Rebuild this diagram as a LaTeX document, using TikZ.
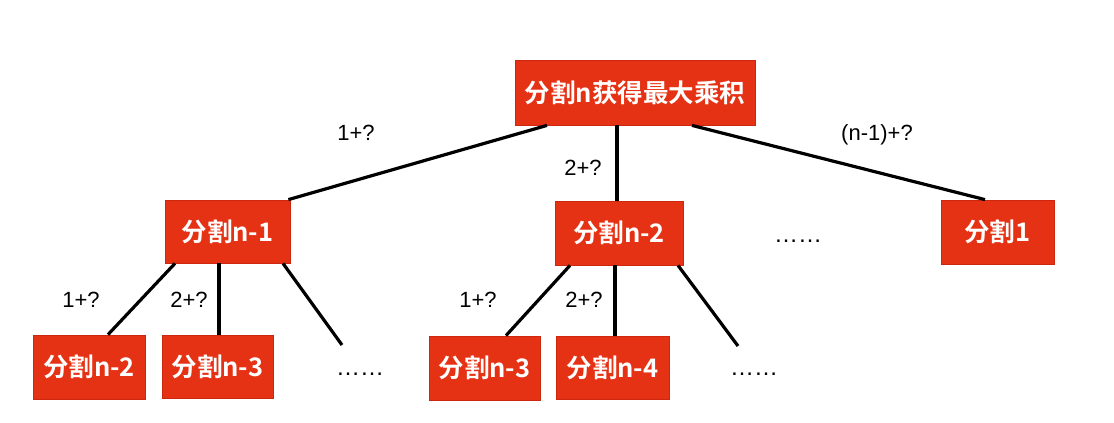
\documentclass[tikz,border=0pt]{standalone}
\usepackage{fontspec}
\setmainfont{Liberation Sans}
\newfontfamily\cjkbold[BoldFont={Noto Sans CJK SC Bold}]{Noto Sans CJK SC}
\definecolor{boxred}{RGB}{230,50,20}
\definecolor{boxedge}{RGB}{205,40,15}
\begin{document}
\begin{tikzpicture}[x=1pt,y=-1pt,
  box/.style={fill=boxred,draw=boxedge,line width=0.8pt,text=white,inner sep=0pt,
    font=\cjkbold\bfseries\fontsize{25.5}{29}\selectfont},
  edge/.style={line width=3.2pt,black},
  lbl/.style={font=\fontsize{22}{26}\selectfont,inner sep=0pt},
  dotsl/.style={font=\fontsize{24}{28}\selectfont,inner sep=0pt}]
\useasboundingbox (0,0) rectangle (1114,423);
\node[box,minimum width=240pt,minimum height=65pt] (top) at (635,92.5) {分割n获得最大乘积};
\node[box,minimum width=125pt,minimum height=63pt] (n1) at (227.5,231.5) {分割n-1};
\node[box,minimum width=128pt,minimum height=64pt] (m2) at (619,233) {分割n-2};
\node[box,minimum width=113pt,minimum height=64pt] (s1) at (997.5,232) {分割1};
\node[box,minimum width=112pt,minimum height=64pt] (a2) at (89,367) {分割n-2};
\node[box,minimum width=111pt,minimum height=63pt] (a3) at (217.5,366.5) {分割n-3};
\node[box,minimum width=111pt,minimum height=64pt] (b3) at (484.5,368) {分割n-3};
\node[box,minimum width=113pt,minimum height=63pt] (b4) at (612.5,367.5) {分割n-4};
\coordinate (ae) at (342,345);
\coordinate (be) at (738,346);
\draw[edge] ([xshift=-88pt]top.south) -- ([xshift=-2pt]n1.north east);
\draw[edge] ([xshift=-18pt]top.south) -- ([xshift=-2pt]m2.north);
\draw[edge] ([xshift=57pt]top.south) -- ([xshift=-12.5pt]s1.north);
\draw[edge] ([xshift=-52.5pt]n1.south) -- ([xshift=19pt]a2.north);
\draw[edge] ([xshift=-8.5pt]n1.south) -- ([xshift=1.5pt]a3.north);
\draw[edge] ([xshift=55.5pt]n1.south) -- (ae);
\draw[edge] ([xshift=-49pt]m2.south) -- ([xshift=21.5pt]b3.north);
\draw[edge] ([xshift=-4pt]m2.south) -- ([xshift=2.5pt]b4.north);
\draw[edge] ([xshift=59pt]m2.south) -- (be);
\node[lbl] (l1) at (356,133) {1+?};
\node[lbl] (l2) at (583,168) {2+?};
\node[lbl] (l3) at (877,135) {(n-1)+?};
\node[lbl] (l4) at (81,300) {1+?};
\node[lbl] (l5) at (189,300) {2+?};
\node[lbl] (l6) at (478,300) {1+?};
\node[lbl] (l7) at (584,300) {2+?};
\node[dotsl] (d1) at (360,374) {……};
\node[dotsl] (d2) at (754,374) {……};
\node[dotsl] (d3) at (798,241) {……};
\end{tikzpicture}
\end{document}
